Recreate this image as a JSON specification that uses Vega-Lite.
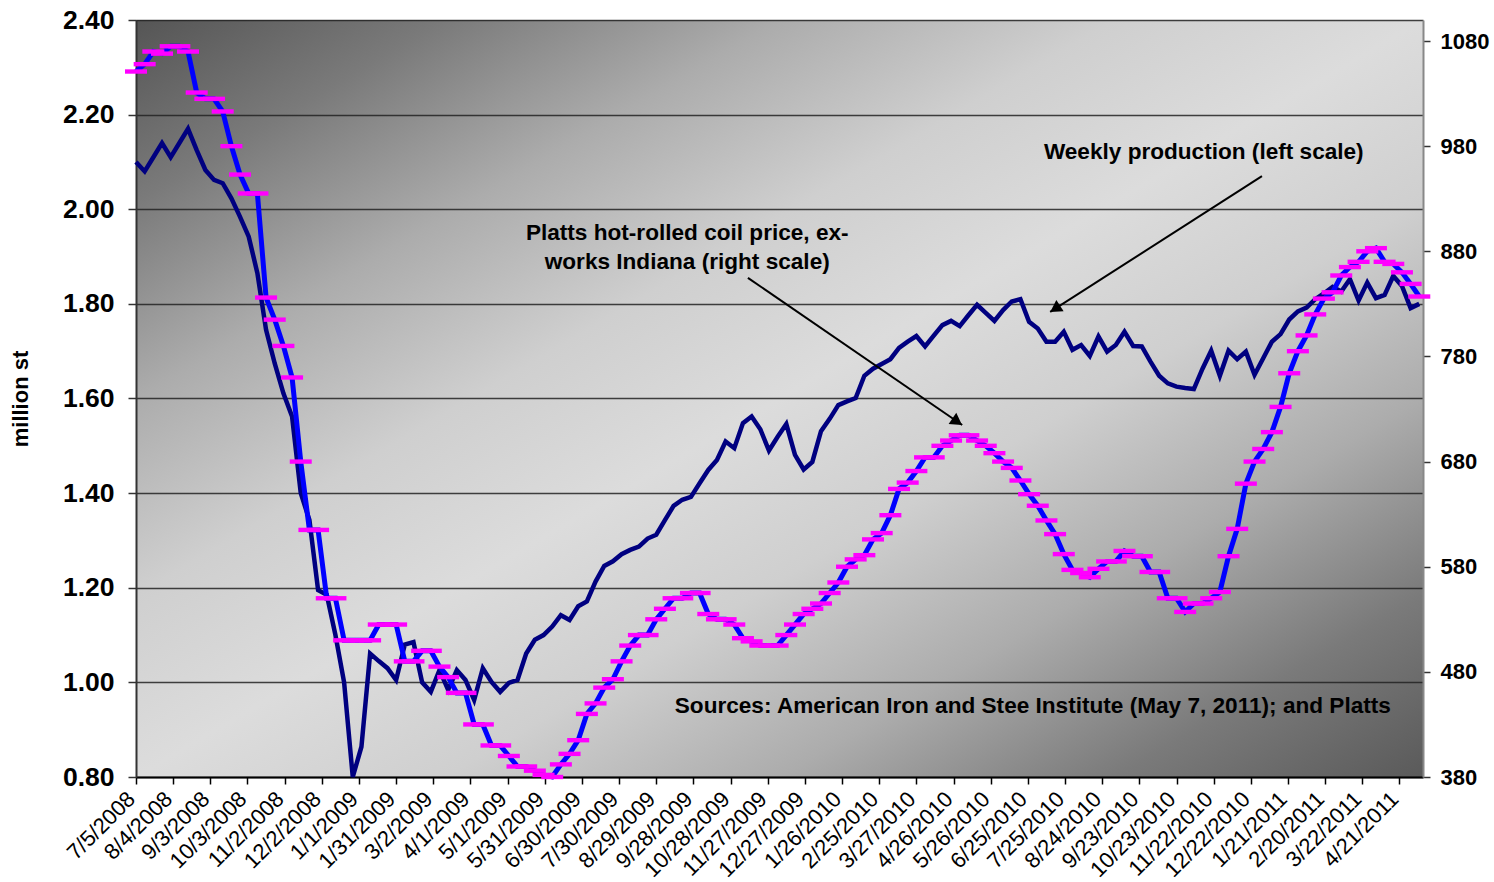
{
  "$schema": "https://vega.github.io/schema/vega-lite/v6.json",
  "width": 1287,
  "height": 757,
  "autosize": {"type": "none"},
  "padding": {"left": 136, "top": 20, "right": 71, "bottom": 105},
  "background": "white",
  "view": {
    "stroke": null,
    "fill": {
      "gradient": "linear", "x1": 0, "y1": 0, "x2": 1, "y2": 1,
      "stops": [
        {"offset": 0, "color": "#555555"},
        {"offset": 0.12, "color": "#7a7a7a"},
        {"offset": 0.25, "color": "#acacac"},
        {"offset": 0.38, "color": "#cfcfcf"},
        {"offset": 0.5, "color": "#dcdcdc"},
        {"offset": 0.62, "color": "#cfcfcf"},
        {"offset": 0.75, "color": "#acacac"},
        {"offset": 0.88, "color": "#7a7a7a"},
        {"offset": 1, "color": "#5a5a5a"}
      ]
    }
  },
  "config": {"font": "Liberation Sans"},
  "datasets": {
    "weekly": [
      {"date":"2008-07-05","production":2.10,"price":1051},
      {"date":"2008-07-12","production":2.08,"price":1058},
      {"date":"2008-07-19","production":2.11,"price":1070},
      {"date":"2008-07-26","production":2.14,"price":1068},
      {"date":"2008-08-02","production":2.11,"price":1075},
      {"date":"2008-08-09","production":2.14,"price":1075},
      {"date":"2008-08-16","production":2.17,"price":1070},
      {"date":"2008-08-23","production":2.125,"price":1031},
      {"date":"2008-08-30","production":2.083,"price":1025},
      {"date":"2008-09-06","production":2.062,"price":1025},
      {"date":"2008-09-13","production":2.055,"price":1013},
      {"date":"2008-09-20","production":2.023,"price":980},
      {"date":"2008-09-27","production":1.984,"price":953},
      {"date":"2008-10-04","production":1.942,"price":935},
      {"date":"2008-10-11","production":1.865,"price":935},
      {"date":"2008-10-18","production":1.745,"price":836},
      {"date":"2008-10-25","production":1.674,"price":815},
      {"date":"2008-11-01","production":1.611,"price":790},
      {"date":"2008-11-08","production":1.562,"price":760},
      {"date":"2008-11-15","production":1.40,"price":680},
      {"date":"2008-11-22","production":1.343,"price":615},
      {"date":"2008-11-29","production":1.195,"price":615},
      {"date":"2008-12-06","production":1.185,"price":550},
      {"date":"2008-12-13","production":1.10,"price":550},
      {"date":"2008-12-20","production":1.00,"price":510},
      {"date":"2008-12-27","production":0.80,"price":510},
      {"date":"2009-01-03","production":0.864,"price":510},
      {"date":"2009-01-10","production":1.061,"price":510},
      {"date":"2009-01-17","production":1.045,"price":525},
      {"date":"2009-01-24","production":1.03,"price":525},
      {"date":"2009-01-31","production":1.005,"price":525},
      {"date":"2009-02-07","production":1.08,"price":490},
      {"date":"2009-02-14","production":1.085,"price":490},
      {"date":"2009-02-21","production":1.00,"price":500},
      {"date":"2009-02-28","production":0.98,"price":500},
      {"date":"2009-03-07","production":1.026,"price":485},
      {"date":"2009-03-14","production":0.984,"price":475},
      {"date":"2009-03-21","production":1.026,"price":460},
      {"date":"2009-03-28","production":1.005,"price":460},
      {"date":"2009-04-04","production":0.963,"price":430},
      {"date":"2009-04-11","production":1.03,"price":430},
      {"date":"2009-04-18","production":1.001,"price":410},
      {"date":"2009-04-25","production":0.98,"price":410},
      {"date":"2009-05-02","production":0.999,"price":400},
      {"date":"2009-05-09","production":1.005,"price":390},
      {"date":"2009-05-16","production":1.061,"price":390},
      {"date":"2009-05-23","production":1.09,"price":386},
      {"date":"2009-05-30","production":1.10,"price":382},
      {"date":"2009-06-06","production":1.118,"price":380},
      {"date":"2009-06-13","production":1.142,"price":392},
      {"date":"2009-06-20","production":1.132,"price":402},
      {"date":"2009-06-27","production":1.161,"price":415},
      {"date":"2009-07-04","production":1.171,"price":440},
      {"date":"2009-07-11","production":1.213,"price":450},
      {"date":"2009-07-18","production":1.246,"price":465},
      {"date":"2009-07-25","production":1.256,"price":473},
      {"date":"2009-08-01","production":1.271,"price":490},
      {"date":"2009-08-08","production":1.28,"price":505},
      {"date":"2009-08-15","production":1.287,"price":515},
      {"date":"2009-08-22","production":1.304,"price":515},
      {"date":"2009-08-29","production":1.312,"price":530},
      {"date":"2009-09-05","production":1.343,"price":540},
      {"date":"2009-09-12","production":1.373,"price":550},
      {"date":"2009-09-19","production":1.386,"price":550},
      {"date":"2009-09-26","production":1.392,"price":555},
      {"date":"2009-10-03","production":1.421,"price":555},
      {"date":"2009-10-10","production":1.449,"price":535},
      {"date":"2009-10-17","production":1.47,"price":530},
      {"date":"2009-10-24","production":1.509,"price":530},
      {"date":"2009-10-31","production":1.495,"price":525},
      {"date":"2009-11-07","production":1.548,"price":512},
      {"date":"2009-11-14","production":1.562,"price":509},
      {"date":"2009-11-21","production":1.535,"price":505},
      {"date":"2009-11-28","production":1.49,"price":505},
      {"date":"2009-12-05","production":1.519,"price":505},
      {"date":"2009-12-12","production":1.546,"price":515},
      {"date":"2009-12-19","production":1.481,"price":525},
      {"date":"2009-12-26","production":1.45,"price":535},
      {"date":"2010-01-02","production":1.466,"price":540},
      {"date":"2010-01-09","production":1.531,"price":545},
      {"date":"2010-01-16","production":1.557,"price":555},
      {"date":"2010-01-23","production":1.586,"price":565},
      {"date":"2010-01-30","production":1.594,"price":580},
      {"date":"2010-02-06","production":1.601,"price":587},
      {"date":"2010-02-13","production":1.648,"price":591},
      {"date":"2010-02-20","production":1.663,"price":606},
      {"date":"2010-02-27","production":1.673,"price":612},
      {"date":"2010-03-06","production":1.683,"price":629},
      {"date":"2010-03-13","production":1.707,"price":654},
      {"date":"2010-03-20","production":1.72,"price":660},
      {"date":"2010-03-27","production":1.732,"price":671},
      {"date":"2010-04-03","production":1.71,"price":684},
      {"date":"2010-04-10","production":1.733,"price":684},
      {"date":"2010-04-17","production":1.755,"price":695},
      {"date":"2010-04-24","production":1.764,"price":700},
      {"date":"2010-05-01","production":1.753,"price":705},
      {"date":"2010-05-08","production":1.776,"price":705},
      {"date":"2010-05-15","production":1.798,"price":700},
      {"date":"2010-05-22","production":1.781,"price":695},
      {"date":"2010-05-29","production":1.764,"price":688},
      {"date":"2010-06-05","production":1.787,"price":680},
      {"date":"2010-06-12","production":1.805,"price":674},
      {"date":"2010-06-19","production":1.81,"price":662},
      {"date":"2010-06-26","production":1.762,"price":649},
      {"date":"2010-07-03","production":1.748,"price":638},
      {"date":"2010-07-10","production":1.72,"price":624},
      {"date":"2010-07-17","production":1.72,"price":611},
      {"date":"2010-07-24","production":1.741,"price":592},
      {"date":"2010-07-31","production":1.703,"price":577},
      {"date":"2010-08-07","production":1.713,"price":574},
      {"date":"2010-08-14","production":1.69,"price":570},
      {"date":"2010-08-21","production":1.731,"price":578},
      {"date":"2010-08-28","production":1.699,"price":585},
      {"date":"2010-09-04","production":1.713,"price":585},
      {"date":"2010-09-11","production":1.741,"price":595},
      {"date":"2010-09-18","production":1.711,"price":590},
      {"date":"2010-09-25","production":1.71,"price":590},
      {"date":"2010-10-02","production":1.678,"price":575},
      {"date":"2010-10-09","production":1.648,"price":575},
      {"date":"2010-10-16","production":1.632,"price":550},
      {"date":"2010-10-23","production":1.625,"price":550},
      {"date":"2010-10-30","production":1.622,"price":537},
      {"date":"2010-11-06","production":1.62,"price":545},
      {"date":"2010-11-13","production":1.663,"price":545},
      {"date":"2010-11-20","production":1.701,"price":550},
      {"date":"2010-11-27","production":1.648,"price":556},
      {"date":"2010-12-04","production":1.701,"price":590},
      {"date":"2010-12-11","production":1.683,"price":616},
      {"date":"2010-12-18","production":1.699,"price":659},
      {"date":"2010-12-25","production":1.65,"price":680},
      {"date":"2011-01-01","production":1.685,"price":692},
      {"date":"2011-01-08","production":1.72,"price":708},
      {"date":"2011-01-15","production":1.736,"price":732},
      {"date":"2011-01-22","production":1.767,"price":764},
      {"date":"2011-01-29","production":1.784,"price":785},
      {"date":"2011-02-05","production":1.792,"price":800},
      {"date":"2011-02-12","production":1.81,"price":820},
      {"date":"2011-02-19","production":1.822,"price":835},
      {"date":"2011-02-26","production":1.836,"price":841},
      {"date":"2011-03-05","production":1.826,"price":857},
      {"date":"2011-03-12","production":1.852,"price":865},
      {"date":"2011-03-19","production":1.807,"price":870},
      {"date":"2011-03-26","production":1.845,"price":880},
      {"date":"2011-04-02","production":1.812,"price":883},
      {"date":"2011-04-09","production":1.819,"price":870},
      {"date":"2011-04-16","production":1.859,"price":868},
      {"date":"2011-04-23","production":1.838,"price":860},
      {"date":"2011-04-30","production":1.791,"price":849},
      {"date":"2011-05-07","production":1.80,"price":837}
    ],
    "arrows": [
      {"date":"2010-12-31","v":2.070,"date2":"2010-07-13","v2":1.783},
      {"date":"2009-11-11","v":1.855,"date2":"2010-05-03","v2":1.544}
    ],
    "heads": [
      {"date":"2010-07-17","v":1.7894,"angle":237},
      {"date":"2010-04-29","v":1.551,"angle":124.5}
    ],
    "notes": [
      {"date":"2010-11-14","v":2.121,"text":"Weekly production (left scale)"},
      {"date":"2009-09-23","v":1.950,"text":"Platts hot-rolled coil price, ex-"},
      {"date":"2009-09-23","v":1.889,"text":"works Indiana (right scale)"},
      {"date":"2010-06-29","v":0.950,"text":"Sources: American Iron and Stee Institute (May 7, 2011); and Platts"}
    ]
  },
  "encoding": {
    "x": {
      "field": "date",
      "type": "temporal",
      "scale": {"type": "utc", "domain": [1215216000000, 1304985600000]},
      "axis": {
        "values": [1215216000000,1217808000000,1220400000000,1222992000000,1225584000000,1228176000000,1230768000000,1233360000000,1235952000000,1238544000000,1241136000000,1243728000000,1246320000000,1248912000000,1251504000000,1254096000000,1256688000000,1259280000000,1261872000000,1264464000000,1267056000000,1269648000000,1272240000000,1274832000000,1277424000000,1280016000000,1282608000000,1285200000000,1287792000000,1290384000000,1292976000000,1295568000000,1298160000000,1300752000000,1303344000000],
        "format": "%-m/%-d/%Y",
        "labelAngle": -45,
        "labelFont": "Liberation Sans",
        "labelFontSize": 22,
        "labelColor": "black",
        "labelOverlap": false,
        "labelFlush": false,
        "labelPadding": 4,
        "labelOffset": -12,
        "tickSize": 7,
        "tickColor": "black",
        "tickWidth": 1.5,
        "domainColor": "black",
        "domainWidth": 2,
        "grid": false,
        "title": null
      }
    }
  },
  "layer": [
    {
      "data": {"name": "weekly"},
      "mark": {"type": "line", "color": "#000080", "strokeWidth": 4.5},
      "encoding": {
        "y": {
          "field": "production", "type": "quantitative",
          "scale": {"domain": [0.8, 2.4], "nice": false, "zero": false},
          "axis": {
            "values": [0.8, 1.0, 1.2, 1.4, 1.6, 1.8, 2.0, 2.2, 2.4],
            "format": ".2f",
            "title": "million st",
            "titleFont": "Liberation Sans",
            "titleFontSize": 22,
            "titleFontWeight": "bold",
            "titleColor": "black",
            "titlePadding": 30,
            "labelFont": "Liberation Sans",
            "labelFontSize": 26.5,
            "labelFontWeight": "bold",
            "labelColor": "black",
            "labelPadding": 14,
            "tickSize": 8,
            "tickColor": "#333333",
            "tickWidth": 1.5,
            "domainColor": "#333333",
            "domainWidth": 2,
            "grid": true,
            "gridColor": "#222222",
            "gridWidth": 1.5,
            "gridOpacity": 0.85
          }
        }
      }
    },
    {
      "data": {"name": "weekly"},
      "mark": {"type": "line", "color": "#0000FF", "strokeWidth": 5},
      "encoding": {
        "y": {
          "field": "price", "type": "quantitative",
          "scale": {"domain": [380, 1100], "nice": false, "zero": false},
          "axis": {
            "orient": "right",
            "values": [380, 480, 580, 680, 780, 880, 980, 1080],
            "format": "d",
            "title": null,
            "labelFont": "Liberation Sans",
            "labelFontSize": 22,
            "labelFontWeight": "bold",
            "labelColor": "black",
            "labelPadding": 10,
            "tickSize": 7,
            "tickColor": "#333333",
            "tickWidth": 1.5,
            "domainColor": "#888888",
            "domainWidth": 2,
            "grid": false
          }
        }
      }
    },
    {
      "data": {"name": "weekly"},
      "mark": {"type": "point", "shape": "M-1,-0.2L1,-0.2L1,0.2L-1,0.2Z", "size": 484, "filled": true, "color": "#FF00FF", "opacity": 1, "strokeWidth": 0},
      "encoding": {
        "y": {"field": "price", "type": "quantitative", "scale": {"domain": [380, 1100], "nice": false, "zero": false}, "axis": null}
      }
    },
    {
      "data": {"name": "arrows"},
      "mark": {"type": "rule", "color": "black", "strokeWidth": 2},
      "encoding": {
        "x2": {"field": "date2"},
        "y": {"field": "v", "type": "quantitative", "scale": {"domain": [0.8, 2.4], "nice": false, "zero": false}, "axis": null},
        "y2": {"field": "v2"}
      }
    },
    {
      "data": {"name": "heads"},
      "mark": {"type": "point", "shape": "triangle-up", "size": 180, "filled": true, "color": "black", "opacity": 1, "strokeWidth": 0},
      "encoding": {
        "y": {"field": "v", "type": "quantitative", "scale": {"domain": [0.8, 2.4], "nice": false, "zero": false}, "axis": null},
        "angle": {"field": "angle", "type": "quantitative", "scale": null}
      }
    },
    {
      "data": {"name": "notes"},
      "mark": {"type": "text", "font": "Liberation Sans", "fontSize": 22.6, "fontWeight": "bold", "color": "black", "align": "center", "baseline": "middle"},
      "encoding": {
        "y": {"field": "v", "type": "quantitative", "scale": {"domain": [0.8, 2.4], "nice": false, "zero": false}, "axis": null},
        "text": {"field": "text", "type": "nominal"}
      }
    }
  ],
  "resolve": {"scale": {"y": "independent"}}
}
